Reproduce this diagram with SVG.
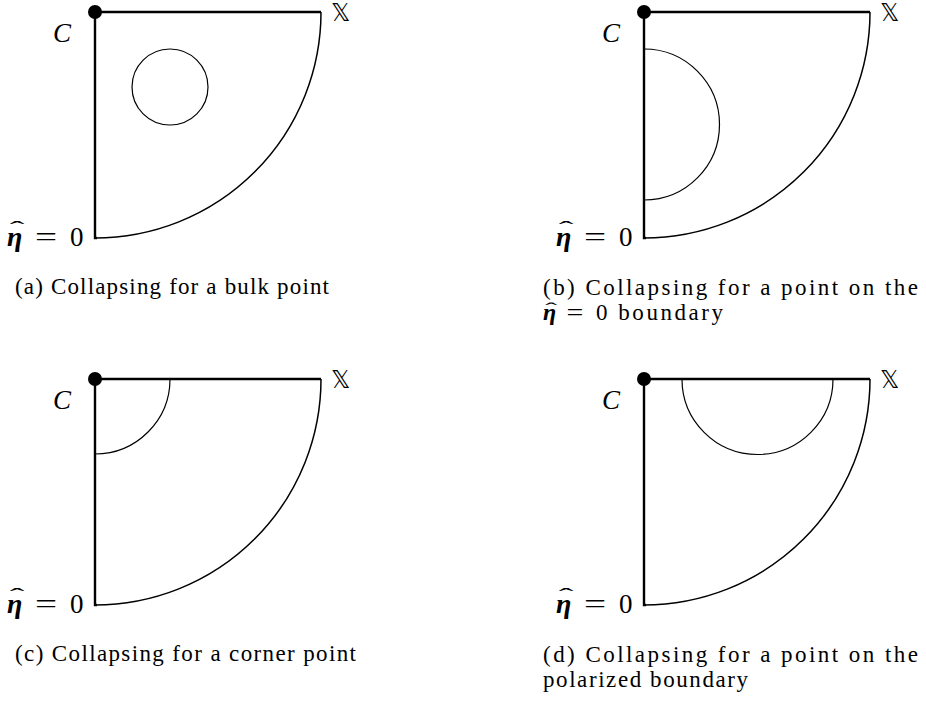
<svg xmlns="http://www.w3.org/2000/svg" width="926" height="702" viewBox="0 0 926 702">
<style>
.bg{fill:#fff}
.edge{fill:none;stroke:#000;stroke-width:2.4;stroke-linecap:butt}
.outer{fill:none;stroke:#000;stroke-width:1.5}
.inner{fill:none;stroke:#000;stroke-width:1.2}
.dot{fill:#000}
.m{font-family:"Liberation Serif","DejaVu Serif",serif;font-size:27px;fill:#000}
.mi{font-style:italic}
.bb{font-family:"DejaVu Sans","DejaVu Serif",sans-serif;font-size:24px;fill:#000}
.eta{font-family:"Liberation Serif","DejaVu Serif",serif;font-style:italic;font-weight:bold;font-size:28px;fill:#000}
.hat{font-family:"Liberation Serif","DejaVu Serif",serif;font-size:22px;fill:#000}
.cap{font-family:"Liberation Serif","DejaVu Serif",serif;font-size:23px;fill:#000}
</style>
<defs>
<g id="frame">
<path class="outer" d="M226 0 A226 226 0 0 1 0 226"/>
<path class="edge" d="M226 0 H0 V226 H2"/>
<circle class="dot" cx="0" cy="0" r="7"/>
<text class="m mi" x="-42" y="30">C</text>
<text class="bb" x="236" y="9">𝕏</text>
<text class="eta" x="-88" y="234">η</text>
<text class="hat" text-anchor="middle" transform="translate(-78,224) scale(2,1)" x="0" y="0">ˆ</text>
<text class="m" text-anchor="middle" transform="translate(-49,234) scale(1.45,1)" x="0" y="0">=</text>
<text class="m" x="-25" y="234">0</text>
</g>
</defs>
<rect class="bg" x="0" y="0" width="926" height="702"/>

<g id="panel-a">
<use href="#frame" transform="translate(95,12)"/>
<circle class="inner" cx="170" cy="87" r="38"/>
<text class="cap" x="15" y="294" textLength="314" lengthAdjust="spacing">(a) Collapsing for a bulk point</text>
</g>

<g id="panel-b">
<use href="#frame" transform="translate(644,12)"/>
<path class="inner" d="M644 49 A75.5 75.5 0 0 1 644 200"/>
<text class="cap" x="543" y="295" textLength="375" lengthAdjust="spacing">(b) Collapsing for a point on the</text>
<text class="eta" x="543" y="320" style="font-size:24px">η</text>
<text class="hat" text-anchor="middle" transform="translate(551,314) scale(2.2,1)" x="0" y="0" style="font-size:16px">ˆ</text>
<text class="cap" text-anchor="middle" transform="translate(575,320) scale(1.3,1)" x="0" y="0">=</text>
<text class="cap" x="596" y="320" textLength="127" lengthAdjust="spacing">0 boundary</text>
</g>

<g id="panel-c">
<use href="#frame" transform="translate(95,379)"/>
<path class="inner" d="M170 379 A75 75 0 0 1 95 454"/>
<text class="cap" x="15" y="661" textLength="341" lengthAdjust="spacing">(c) Collapsing for a corner point</text>
</g>

<g id="panel-d">
<use href="#frame" transform="translate(644,379)"/>
<path class="inner" d="M682 379 A75.5 75.5 0 0 0 833 379"/>
<text class="cap" x="543" y="662" textLength="375" lengthAdjust="spacing">(d) Collapsing for a point on the</text>
<text class="cap" x="543" y="687" textLength="205" lengthAdjust="spacing">polarized boundary</text>
</g>

<g id="connectors"></g>
</svg>
